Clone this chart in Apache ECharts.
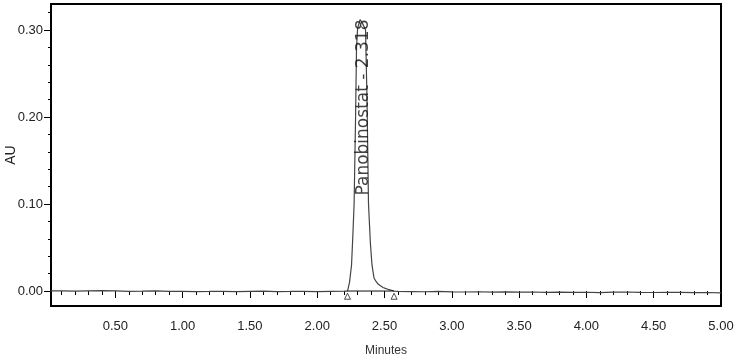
<!DOCTYPE html>
<html>
<head>
<meta charset="utf-8">
<script src="https://cdn.jsdelivr.net/npm/echarts@6/dist/echarts.min.js"></script>
<style>
  html, body { margin: 0; padding: 0; background: #fff; }
  #chart { width: 737px; height: 358px; }
</style>
</head>
<body>
<div id="chart"></div>
<script>
// baseline before the peak (minutes, AU)
const baseTimes = [0.02, 0.10, 0.20, 0.30, 0.40, 0.50, 0.60, 0.70, 0.80, 0.90, 1.00, 1.10, 1.20, 1.30, 1.40, 1.50, 1.60, 1.70, 1.80, 1.90, 2.00, 2.10, 2.20]
const baseValues = [0.0003, 0.0002, 0.0000, 0.0003, 0.0005, 0.0001, -0.0004, -0.0002, 0.0001, -0.0003, -0.0004, -0.0006, -0.0005, -0.0003, -0.0006, -0.0004, -0.0002, -0.0006, -0.0005, -0.0003, -0.0006, -0.0004, -0.0002]

// the peak itself
const peakTimes = [2.225, 2.240, 2.255, 2.265, 2.274, 2.285, 2.292, 2.300, 2.318, 2.335, 2.348, 2.359, 2.370, 2.381, 2.395, 2.407, 2.422, 2.437, 2.452, 2.470, 2.489, 2.506, 2.526, 2.548, 2.571]
const peakValues = [0.000, 0.010, 0.030, 0.065, 0.100, 0.200, 0.280, 0.302, 0.312, 0.308, 0.304, 0.300, 0.220, 0.100, 0.055, 0.030, 0.015, 0.011, 0.008, 0.006, 0.004, 0.003, 0.002, 0.001, 0.000]

// baseline after the peak
const tailTimes = [2.60, 2.70, 2.80, 2.90, 3.00, 3.10, 3.20, 3.30, 3.40, 3.50, 3.60, 3.70, 3.80, 3.90, 4.00, 4.10, 4.20, 4.30, 4.40, 4.50, 4.60, 4.70, 4.80, 4.90, 5.00]
const tailValues = [-0.0004, -0.0006, -0.0008, -0.0005, -0.0009, -0.0011, -0.0008, -0.0012, -0.0010, -0.0013, -0.0011, -0.0015, -0.0012, -0.0016, -0.0014, -0.0018, -0.0013, -0.0011, -0.0015, -0.0017, -0.0014, -0.0016, -0.0019, -0.0017, -0.0021]

// peak annotation and integration marks
const peakName = 'Panobinostat'
const peakRT = 2.318
const peakLabelAU = 0.211
const integStart = 2.225
const integEnd = 2.571
const markerAU = -0.006

// axes
const xMin = 0.022
const xMax = 5.0
const yMin = -0.0172
const yMax = 0.33
const xLabelTicks = [0.5, 1.0, 1.5, 2.0, 2.5, 3.0, 3.5, 4.0, 4.5, 5.0]
const yLabelTicks = [0.0, 0.1, 0.2, 0.3]

const sans = "'Liberation Sans', Arial, sans-serif"

const minorSteps = (from, to, step, skip) => {
  const out = []
  for (let i = Math.round(from / step); i * step <= to + 1e-9; i++) {
    const v = Math.round(i * step * 100) / 100
    if (!skip.some(s => Math.abs(s - v) < 1e-6)) out.push(v)
  }
  return out
}

const getOption = () => {
  const trace = []
  baseTimes.forEach((t, i) => trace.push([t, baseValues[i]]))
  peakTimes.forEach((t, i) => trace.push([t, peakValues[i]]))
  tailTimes.forEach((t, i) => trace.push([t, tailValues[i]]))

  const xMinor = minorSteps(0.1, 4.9, 0.1, xLabelTicks)
  const yMinor = minorSteps(0.02, 0.32, 0.02, yLabelTicks)

  const xCommon = {
    type: 'value', min: xMin, max: xMax, position: 'bottom', offset: 3,
    axisLine: { show: false }, splitLine: { show: false }
  }
  const yCommon = {
    type: 'value', min: yMin, max: yMax, position: 'left',
    axisLine: { show: false }, splitLine: { show: false }
  }

  return {
    animation: false,
    grid: {
      left: 51, right: 16, top: 4, bottom: 52,
      outerBoundsMode: 'none',
      containLabel: false,
      show: true, borderColor: '#000', borderWidth: 2, backgroundColor: '#fff'
    },
    xAxis: [
      {
        ...xCommon,
        name: 'Minutes',
        nameLocation: 'middle',
        nameGap: 36,
        nameMoveOverlap: false,
        nameTextStyle: { fontFamily: sans, fontSize: 12, color: '#333' },
        axisTick: { show: true, length: 7, customValues: xLabelTicks, lineStyle: { color: '#000' } },
        axisLabel: {
          customValues: xLabelTicks, margin: 11,
          fontFamily: sans, fontSize: 13, color: '#222',
          formatter: v => v.toFixed(2)
        }
      },
      {
        ...xCommon,
        axisTick: { show: true, length: 4, customValues: xMinor, lineStyle: { color: '#000' } },
        axisLabel: { show: false }
      }
    ],
    yAxis: [
      {
        ...yCommon,
        name: 'AU',
        nameLocation: 'middle',
        nameGap: 33,
        nameMoveOverlap: false,
        nameTextStyle: { fontFamily: sans, fontSize: 14, color: '#222' },
        axisTick: { show: true, length: 7, customValues: yLabelTicks, lineStyle: { color: '#000' } },
        axisLabel: {
          customValues: yLabelTicks, margin: 8,
          fontFamily: sans, fontSize: 13, color: '#222',
          formatter: v => v.toFixed(2)
        }
      },
      {
        ...yCommon,
        axisTick: { show: true, length: 3, customValues: yMinor, lineStyle: { color: '#000' } },
        axisLabel: { show: false }
      }
    ],
    series: [
      {
        name: 'trace',
        type: 'line',
        data: trace,
        showSymbol: false,
        silent: true,
        lineStyle: { color: '#444', width: 1.2 }
      },
      {
        name: 'baseline',
        type: 'line',
        data: [[integStart, 0], [integEnd, 0]],
        showSymbol: false,
        silent: true,
        lineStyle: { color: '#111', width: 1 }
      },
      {
        name: 'marks',
        type: 'scatter',
        data: [[integStart, markerAU], [integEnd, markerAU]],
        symbol: 'triangle',
        symbolSize: 6,
        silent: true,
        itemStyle: { color: '#fff', borderColor: '#222', borderWidth: 1 }
      },
      {
        name: 'label',
        type: 'scatter',
        data: [[peakRT, peakLabelAU]],
        symbolSize: 0,
        silent: true,
        z: 5,
        label: {
          show: true,
          position: 'inside',
          rotate: 90,
          offset: [0, 4],
          formatter: `${peakName} - ${peakRT.toFixed(3)}`,
          fontFamily: "'DejaVu Sans', sans-serif",
          fontSize: 17,
          color: '#111'
        }
      }
    ]
  }
}

window.addEventListener('load', () => {
  const chart = echarts.init(document.getElementById('chart'))
  chart.setOption(getOption())
})
</script>
</body>
</html>
